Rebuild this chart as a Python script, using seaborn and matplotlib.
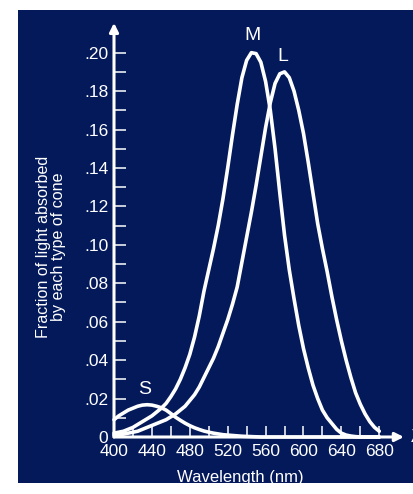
import matplotlib
matplotlib.use("Agg")
import matplotlib.pyplot as plt
import pandas as pd
import seaborn as sns
from matplotlib.patches import Rectangle
from matplotlib.ticker import FixedLocator

# ---------------- data ----------------
wavelength = list(range(400, 685, 5))

m_cone = [0.002, 0.0025, 0.003, 0.004, 0.005, 0.0065, 0.008, 0.0095, 0.011, 0.013,
          0.015, 0.0175, 0.021, 0.025, 0.030, 0.036, 0.043, 0.052, 0.063, 0.076,
          0.087, 0.098, 0.110, 0.124, 0.140, 0.157, 0.173, 0.187, 0.196, 0.200,
          0.1995, 0.195, 0.185, 0.170, 0.150, 0.127, 0.105, 0.087, 0.072, 0.058,
          0.046, 0.036, 0.027, 0.020, 0.014, 0.010, 0.007, 0.004, 0.002, 0.001,
          0.0005, 0.0002, 0.0, 0.0, 0.0, 0.0, 0.0]

l_cone = [0.001, 0.0012, 0.0015, 0.002, 0.0025, 0.003, 0.004, 0.005, 0.006, 0.007,
          0.008, 0.009, 0.0105, 0.012, 0.014, 0.016, 0.019, 0.022, 0.026, 0.031,
          0.036, 0.041, 0.047, 0.054, 0.061, 0.069, 0.078, 0.091, 0.104, 0.117,
          0.131, 0.146, 0.161, 0.174, 0.184, 0.189, 0.190, 0.187, 0.180, 0.170,
          0.158, 0.143, 0.127, 0.111, 0.098, 0.086, 0.073, 0.061, 0.050, 0.040,
          0.031, 0.023, 0.017, 0.012, 0.008, 0.005, 0.003]

s_cone = [0.009, 0.011, 0.0125, 0.014, 0.015, 0.016, 0.0166, 0.0168, 0.0166, 0.016,
          0.0152, 0.014, 0.0122, 0.0103, 0.0087, 0.0072, 0.0059, 0.0048, 0.0039, 0.0031,
          0.0025, 0.002, 0.0016, 0.0012, 0.001, 0.0008, 0.0006, 0.0004, 0.0003, 0.0002,
          0.0001, 0.0, 0.0, 0.0, 0.0, 0.0, 0.0, 0.0, 0.0, 0.0,
          0.0, 0.0, 0.0, 0.0, 0.0, 0.0, 0.0, 0.0, 0.0, 0.0,
          0.0, 0.0, 0.0, 0.0, 0.0, 0.0, 0.0]

cone_names = ["S", "M", "L"]
x_major_ticks = [400, 440, 480, 520, 560, 600, 640, 680]
x_minor_ticks = [420, 460, 500, 540, 580, 620, 660]
y_major_ticks = [0, 0.02, 0.04, 0.06, 0.08, 0.10, 0.12, 0.14, 0.16, 0.18, 0.20]
y_tick_labels = ["0", ".02", ".04", ".06", ".08", ".10", ".12", ".14", ".16", ".18", ".20"]
y_minor_ticks = [0.01, 0.03, 0.05, 0.07, 0.09, 0.11, 0.13, 0.15, 0.17, 0.19]
x_label = "Wavelength (nm)"
y_label = "Fraction of light absorbed\nby each type of cone"

# ---------------- styling ----------------
sns.set_style("white")
plt.rcParams["font.family"] = ["Liberation Sans", "DejaVu Sans"]

NAVY = "#03195A"
W, H = 414, 494
fig = plt.figure(figsize=(W / 100, H / 100), dpi=100)
fig.patch.set_facecolor("white")
fig.patches.append(Rectangle((18 / W, 1 - 483 / H), 1.0, (483 - 10) / H,
                             transform=fig.transFigure, facecolor=NAVY,
                             edgecolor="none", zorder=-10))

ax = fig.add_axes([114 / W, (H - 437) / H, 295.6 / W, 417 / H])
ax.set_facecolor("none")
ax.set_zorder(5)

df = pd.DataFrame({
    "wavelength": wavelength * 3,
    "absorb": s_cone + m_cone + l_cone,
    "cone": ["S"] * len(wavelength) + ["M"] * len(wavelength) + ["L"] * len(wavelength),
})

sns.lineplot(data=df, x="wavelength", y="absorb", hue="cone", hue_order=cone_names,
             palette={"S": "white", "M": "white", "L": "white"},
             estimator=None, linewidth=2.6, legend=False, ax=ax)
for ln in ax.get_lines():
    ln.set_clip_on(False)
    ln.set_solid_capstyle("round")
    ln.set_solid_joinstyle("round")

ax.set_xlim(400, 712)
ax.set_ylim(0, 0.217)
for sp in ax.spines.values():
    sp.set_visible(False)

# axes with arrows
ax.annotate("", xy=(706, 0), xytext=(400, 0), xycoords="data",
            arrowprops=dict(arrowstyle="-|>", color="white", lw=2.2,
                            mutation_scale=13, shrinkA=0, shrinkB=0), annotation_clip=False)
ax.annotate("", xy=(400, 0.2155), xytext=(400, 0), xycoords="data",
            arrowprops=dict(arrowstyle="-|>", color="white", lw=2.2,
                            mutation_scale=13, shrinkA=0, shrinkB=0), annotation_clip=False)

ax.set_xticks(x_major_ticks)
ax.set_xticklabels([str(v) for v in x_major_ticks])
ax.xaxis.set_minor_locator(FixedLocator(x_minor_ticks))
ax.set_yticks(y_major_ticks)
ax.set_yticklabels(y_tick_labels)
ax.yaxis.set_minor_locator(FixedLocator(y_minor_ticks))

ax.tick_params(axis="x", which="both", direction="in", length=8, width=1.1,
               color="white", labelcolor="white", labelsize=12.5, pad=5,
               bottom=True, top=False)
ax.tick_params(axis="y", which="both", direction="in", length=8.5, width=1.1,
               color="white", labelcolor="white", labelsize=12.5, pad=4,
               left=True, right=False)
ax.set_xlabel("")
ax.set_ylabel("")

fig.text(240 / W, 1 - 477 / H, x_label, color="white", fontsize=12,
         ha="center", va="center")
fig.text(51 / W, 1 - 247 / H, y_label, color="white", fontsize=11.6,
         ha="center", va="center", rotation=90, linespacing=1.0)

ax.text(546.7, 0.2087, "M", color="white", fontsize=14, ha="center", va="center")
ax.text(578.4, 0.1978, "L", color="white", fontsize=14, ha="center", va="center")
ax.text(432.7, 0.0245, "S", color="white", fontsize=14, ha="center", va="center")
ax.text(713, 0.0, "λ", color="white", fontsize=14, ha="left", va="center", clip_on=False)

fig.savefig("out.png", dpi=100, facecolor="white")
